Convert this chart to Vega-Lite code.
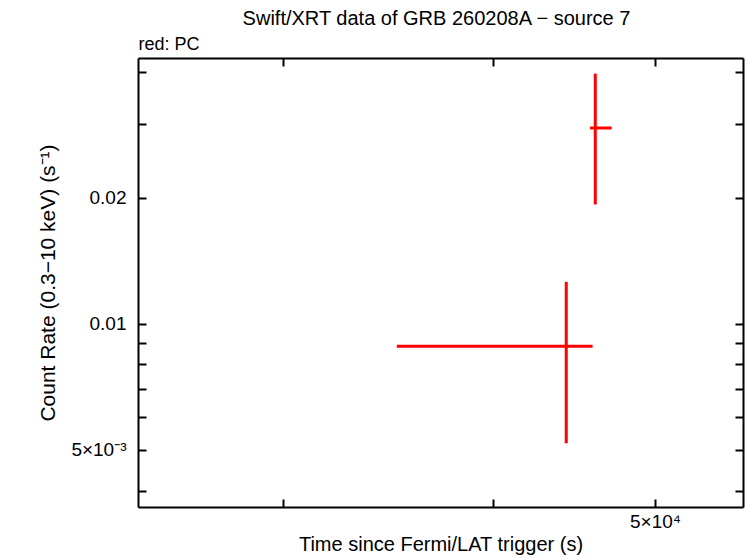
{
  "$schema": "https://vega.github.io/schema/vega-lite/v6.json",
  "width": 605,
  "height": 449,
  "autosize": "none",
  "padding": {"left": 138, "top": 58, "right": 3, "bottom": 51},
  "background": "white",
  "title": {
    "text": "Swift/XRT data of GRB 260208A − source 7",
    "font": "Liberation Sans",
    "fontSize": 20,
    "fontWeight": "normal",
    "color": "black",
    "anchor": "middle",
    "dx": -4,
    "offset": 6
  },
  "config": {
    "view": {"stroke": null},
    "axis": {
      "labelFont": "Liberation Sans",
      "labelFontSize": 19,
      "labelColor": "black",
      "titleFont": "Liberation Sans",
      "titleFontSize": 20,
      "titleFontWeight": "normal",
      "titleColor": "black",
      "domainColor": "black",
      "domainWidth": 2,
      "tickColor": "black",
      "tickWidth": 2,
      "tickSize": -8,
      "grid": false
    }
  },
  "data": {
    "values": [
      {"t": 44260, "tlo": 35070, "thi": 45890, "rate": 0.008846, "rlo": 0.005189, "rhi": 0.012599},
      {"t": 46060, "tlo": 45730, "thi": 47110, "rate": 0.02935, "rlo": 0.01928, "rhi": 0.03957}
    ]
  },
  "layer": [
    {
      "mark": {"type": "rule", "color": "#ff0000", "strokeWidth": 3},
      "encoding": {
        "x": {
          "field": "tlo", "type": "quantitative",
          "scale": {"type": "log", "domain": [24580, 56420], "nice": false, "zero": false},
          "axis": {
            "orient": "bottom",
            "title": "Time since Fermi/LAT trigger (s)",
            "values": [30000, 40000, 50000],
            "labelExpr": "datum.value == 50000 ? '5×10⁴' : ''",
            "labelPadding": 13,
            "titlePadding": 3
          }
        },
        "x2": {"field": "thi"},
        "y": {
          "field": "rate", "type": "quantitative",
          "scale": {"type": "log", "domain": [0.003655, 0.04312], "nice": false, "zero": false},
          "axis": {
            "orient": "left",
            "title": "Count Rate (0.3−10 keV) (s⁻¹)",
            "titleFontSize": 21,
            "values": [0.004, 0.005, 0.006, 0.007, 0.008, 0.009, 0.01, 0.02, 0.03, 0.04],
            "labelExpr": "datum.value == 0.005 ? '5×10⁻³' : (datum.value == 0.01 ? '0.01' : (datum.value == 0.02 ? '0.02' : ''))",
            "labelPadding": 20,
            "titlePadding": 12
          }
        }
      }
    },
    {
      "mark": {"type": "rule", "color": "#ff0000", "strokeWidth": 3},
      "encoding": {
        "x": {
          "field": "t", "type": "quantitative",
          "axis": {
            "orient": "top",
            "title": "red: PC",
            "titleAnchor": "start",
            "titleAlign": "left",
            "titleFontSize": 18,
            "titlePadding": 4,
            "values": [30000, 40000, 50000],
            "labels": false
          }
        },
        "y": {
          "field": "rlo", "type": "quantitative",
          "axis": {
            "orient": "right",
            "title": null,
            "values": [0.004, 0.005, 0.006, 0.007, 0.008, 0.009, 0.01, 0.02, 0.03, 0.04],
            "labels": false
          }
        },
        "y2": {"field": "rhi"}
      }
    }
  ],
  "resolve": {"axis": {"x": "independent", "y": "independent"}}
}
